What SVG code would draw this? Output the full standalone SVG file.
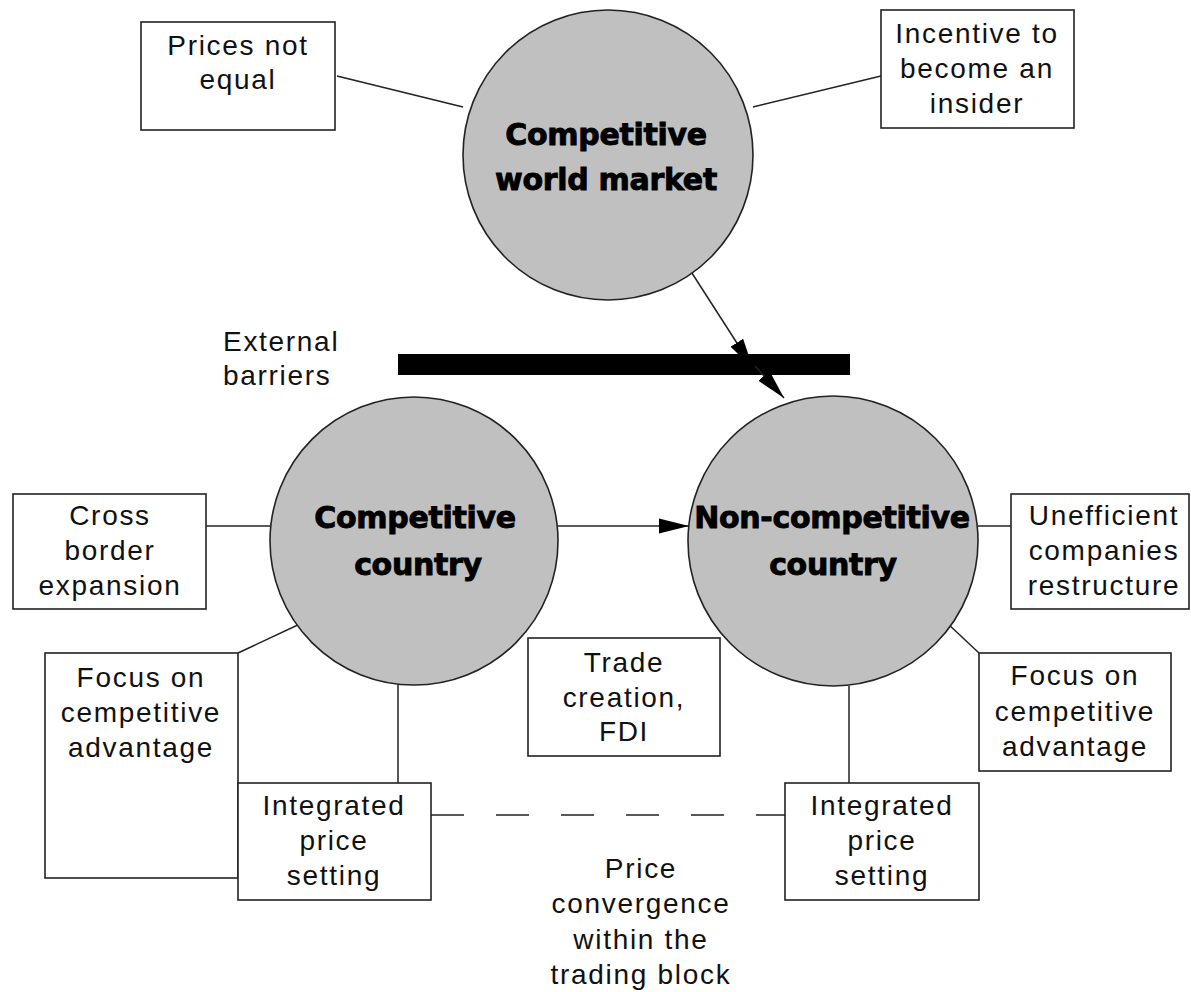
<svg xmlns="http://www.w3.org/2000/svg" width="1191" height="992" viewBox="0 0 1191 992">
<style>
.box{fill:#fff;stroke:#222;stroke-width:1.6}
.circ{fill:#c0c0c0;stroke:#222;stroke-width:1.6}
.t{font-family:"Liberation Sans",Arial,sans-serif;font-size:28px;letter-spacing:1.7px;fill:#111;text-anchor:middle}
.b{font-family:"DejaVu Sans","Liberation Sans",sans-serif;font-weight:bold;font-size:30px;fill:#000;stroke:#000;stroke-width:0.9;letter-spacing:-0.3px;text-anchor:middle}
.ln{fill:none;stroke:#222;stroke-width:1.5}
.dash{fill:none;stroke:#222;stroke-width:1.5;stroke-dasharray:33 32}
</style>
<defs>
<marker id="ah" markerUnits="userSpaceOnUse" markerWidth="31" markerHeight="16" refX="30" refY="8" orient="auto">
<path d="M0,0.5 L30,8 L0,15.5 z" fill="#000"/>
</marker>
</defs>
<rect width="1191" height="992" fill="#fff"/>
<g id="connectors">
<line class="ln" x1="337" y1="76" x2="463" y2="107"/>
<line class="ln" x1="881" y1="76" x2="753" y2="107"/>
<line class="ln" x1="690" y1="270" x2="753" y2="368" marker-end="url(#ah)"/>
<line class="ln" x1="206" y1="526" x2="271" y2="526"/>
<line class="ln" x1="238" y1="653" x2="302" y2="623"/>
<line class="ln" x1="398" y1="685" x2="398" y2="783"/>
<line class="ln" x1="558" y1="526" x2="689" y2="526" marker-end="url(#ah)"/>
<line class="ln" x1="978" y1="526" x2="1011" y2="526"/>
<line class="ln" x1="947" y1="623" x2="979" y2="653"/>
<line class="ln" x1="849" y1="686" x2="849" y2="783"/>
<line class="dash" x1="431" y1="815" x2="785" y2="815"/>
</g>
<g id="barrier">
<rect x="398" y="354" width="452" height="21" fill="#000"/>
<line class="ln" x1="755" y1="366" x2="784" y2="398" marker-end="url(#ah)"/>
<text class="t" style="text-anchor:start" x="223" y="351">External</text>
<text class="t" style="text-anchor:start" x="223" y="385">barriers</text>
</g>
<g id="world-market">
<circle class="circ" cx="608" cy="155" r="145"/>
<text class="b" x="606" y="145">Competitive</text>
<text class="b" x="606" y="190">world market</text>
</g>
<g id="prices-not-equal">
<rect class="box" x="141" y="22" width="194" height="108"/>
<text class="t" x="238" y="55">Prices not</text>
<text class="t" x="238" y="89">equal</text>
</g>
<g id="incentive">
<rect class="box" x="881" y="10" width="193" height="118"/>
<text class="t" x="977" y="43">Incentive to</text>
<text class="t" x="977" y="78">become an</text>
<text class="t" x="977" y="113">insider</text>
</g>
<g id="competitive-country">
<circle class="circ" cx="414" cy="541" r="144"/>
<text class="b" x="415" y="528">Competitive</text>
<text class="b" x="418" y="575">country</text>
</g>
<g id="non-competitive-country">
<circle class="circ" cx="833" cy="541" r="145"/>
<text class="b" x="832" y="528">Non-competitive</text>
<text class="b" x="833" y="575">country</text>
</g>
<g id="cross-border">
<rect class="box" x="13" y="494" width="193" height="115"/>
<text class="t" x="110" y="525">Cross</text>
<text class="t" x="110" y="560">border</text>
<text class="t" x="110" y="595">expansion</text>
</g>
<g id="focus-left">
<rect class="box" x="45" y="653" width="193" height="225"/>
<text class="t" x="141" y="687">Focus on</text>
<text class="t" x="141" y="722">cempetitive</text>
<text class="t" x="141" y="757">advantage</text>
</g>
<g id="integrated-left">
<rect class="box" x="238" y="783" width="193" height="117"/>
<text class="t" x="334" y="815">Integrated</text>
<text class="t" x="334" y="850">price</text>
<text class="t" x="334" y="885">setting</text>
</g>
<g id="trade-creation">
<rect class="box" x="528" y="638" width="192" height="118"/>
<text class="t" x="624" y="672">Trade</text>
<text class="t" x="624" y="707">creation,</text>
<text class="t" x="624" y="741">FDI</text>
</g>
<g id="unefficient">
<rect class="box" x="1011" y="494" width="178" height="115"/>
<text class="t" x="1104" y="525">Unefficient</text>
<text class="t" x="1104" y="560">companies</text>
<text class="t" x="1104" y="595">restructure</text>
</g>
<g id="focus-right">
<rect class="box" x="979" y="653" width="192" height="118"/>
<text class="t" x="1075" y="685">Focus on</text>
<text class="t" x="1075" y="721">cempetitive</text>
<text class="t" x="1075" y="756">advantage</text>
</g>
<g id="integrated-right">
<rect class="box" x="785" y="783" width="194" height="117"/>
<text class="t" x="882" y="815">Integrated</text>
<text class="t" x="882" y="850">price</text>
<text class="t" x="882" y="885">setting</text>
</g>
<g id="price-convergence">
<text class="t" x="641" y="878">Price</text>
<text class="t" x="641" y="913">convergence</text>
<text class="t" x="641" y="949">within the</text>
<text class="t" x="641" y="984">trading block</text>
</g>
</svg>
